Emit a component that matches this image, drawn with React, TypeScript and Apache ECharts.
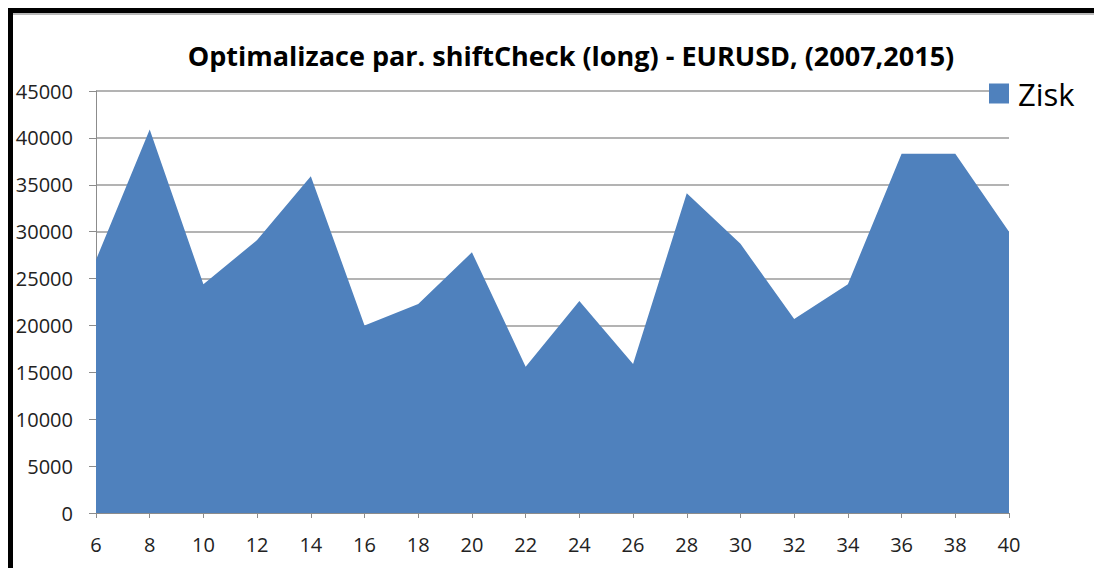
import React, { useEffect, useRef } from "react";
import * as echarts from "echarts";

const categories = ["6", "8", "10", "12", "14", "16", "18", "20", "22", "24", "26", "28", "30", "32", "34", "36", "38", "40"];
const zisk = [27000, 40900, 24400, 29100, 35900, 20000, 22300, 27800, 15600, 22600, 15900, 34100, 28700, 20700, 24400, 38300, 38300, 30000];
const titleText = "Optimalizace par. shiftCheck (long) - EURUSD, (2007,2015)";
const seriesName = "Zisk";

export default function App() {
  const ref = useRef<HTMLDivElement>(null);
  useEffect(() => {
    document.body.style.margin = "0";
    const chart = echarts.init(ref.current!, null, { renderer: "svg" });
    const font = "'Open Sans', 'Noto Sans', sans-serif";
    chart.setOption({
      animation: false,
      backgroundColor: "#ffffff",
      title: {
        text: titleText,
        left: 566,
        textAlign: "center",
        top: 37,
        textStyle: { fontFamily: font, fontWeight: "bold", fontSize: 27, color: "#000" },
      },
      legend: {
        data: [seriesName],
        left: 989,
        top: 78,
        padding: 0,
        itemWidth: 20,
        itemHeight: 20,
        icon: "rect",
        itemGap: 5,
        textStyle: { fontFamily: font, fontSize: 31, color: "#000", padding: [0, 0, 0, 4] },
      },
      grid: { left: 96, right: 85, top: 91, bottom: 55, containLabel: false },
      xAxis: {
        type: "category",
        data: categories,
        boundaryGap: false,
        axisLine: { show: true, lineStyle: { color: "#8c8c8c", width: 1 } },
        axisTick: { show: true, length: 5, alignWithLabel: true, lineStyle: { color: "#8c8c8c" } },
        axisLabel: { fontFamily: font, fontSize: 20, color: "#222", margin: 21, interval: 0 },
        splitLine: { show: false },
      },
      yAxis: {
        type: "value",
        min: 0,
        max: 45000,
        interval: 5000,
        axisLine: { show: true, lineStyle: { color: "#8c8c8c", width: 1 } },
        axisTick: { show: true, length: 7, lineStyle: { color: "#8c8c8c" } },
        axisLabel: { fontFamily: font, fontSize: 20, color: "#222", margin: 23, formatter: (v: number) => String(v) },
        splitLine: { show: true, lineStyle: { color: "#9a9a9a", width: 1.5 } },
      },
      series: [
        {
          name: seriesName,
          type: "line",
          data: zisk,
          symbol: "none",
          lineStyle: { width: 0, color: "#4f81bd" },
          itemStyle: { color: "#4f81bd" },
          areaStyle: { color: "#4f81bd", opacity: 1 },
        },
      ],
      graphic: [
        { type: "rect", shape: { x: 8, y: 13, width: 1086, height: 2 }, style: { fill: "#b8b8b8" }, z: 100 },
        { type: "rect", shape: { x: 8, y: 8, width: 1086, height: 5 }, style: { fill: "#000" }, z: 101 },
        { type: "rect", shape: { x: 8, y: 8, width: 5, height: 560 }, style: { fill: "#000" }, z: 101 },
      ],
    });
    return () => chart.dispose();
  }, []);
  return <div ref={ref} style={{ position: "fixed", left: 0, top: 0, width: 1094, height: 568 }} />;
}
